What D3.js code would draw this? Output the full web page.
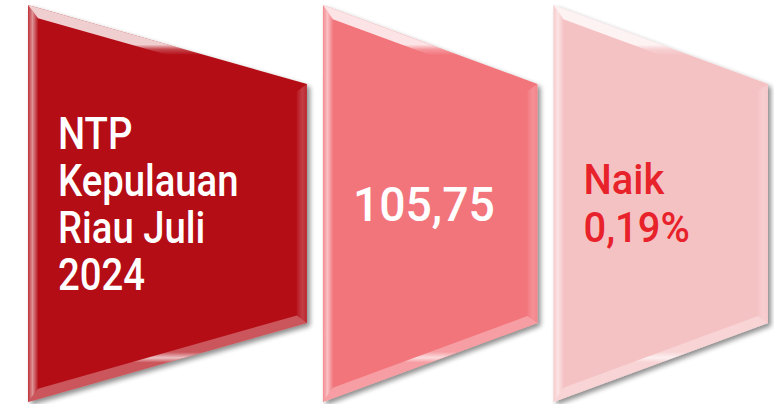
<!DOCTYPE html>
<html lang="en">
<head>
<meta charset="utf-8">
<title>NTP Kepulauan Riau</title>
<style>
  body { margin: 0; background: #fff; }
  svg { display: block; }
  .label { font-family: Roboto, "Liberation Sans", sans-serif; font-weight: 500; }
</style>
</head>
<body>
<div id="chart"></div>
<script src="https://cdn.jsdelivr.net/npm/d3@7"></script>
<script>
// panels of the infographic
var panels = ["judul", "nilai", "perubahan"];
var panelText = [
  ["NTP", "Kepulauan", "Riau Juli", "2024"],
  ["105,75"],
  ["Naik", "0,19%"]
];
var panelWeight = [1.3, 1, 1];
var panelFill = ["#b40f15", "#f2757c", "#f5c2c4"];
var textFill = ["#ffffff", "#ffffff", "#e8222a"];
var fontSize = [44, 48, 42];
var lineHeight = [47, 48, 48];
var squeeze = [0.87, 0.965, 0.95];

var width = 774, height = 404;
var left = 28, right = 768, gap = 16;
var yTop = 5, yBottom = 402, slant = 79, bevel = 10;

var svg = d3.select("#chart").append("svg")
    .attr("width", width)
    .attr("height", height);

var defs = svg.append("defs");
var shadow = defs.append("filter").attr("id", "shadow")
    .attr("x", "-10%").attr("y", "-10%").attr("width", "130%").attr("height", "130%");
shadow.append("feGaussianBlur").attr("in", "SourceAlpha").attr("stdDeviation", 2.5);
shadow.append("feOffset").attr("dx", 3).attr("dy", 3).attr("result", "blur");
shadow.append("feComponentTransfer").append("feFuncA").attr("type", "linear").attr("slope", 0.45);
var merge = shadow.append("feMerge");
merge.append("feMergeNode");
merge.append("feMergeNode").attr("in", "SourceGraphic");

// cumulative weights -> x positions
var cum = [0];
panelWeight.forEach(function(w, i) { cum.push(cum[i] + w); });
var unit = (right - left - gap * (panels.length - 1)) / cum[cum.length - 1];
var x0 = function(i) { return left + cum[i] * unit + gap * i; };
var x1 = function(i) { return left + cum[i + 1] * unit + gap * i; };

var y = d3.scaleLinear().domain([0, 1]).range([yTop, yBottom]);

// bevel facet styles: white opacity at outer, mid, inner edge
var facetStyle = {
  top:    { c: "#fff", s: [0.8, 0.25, 0.0] },
  right:  { c: "#fff", s: [0.1, 0.2, 0.05] },
  bottom: { c: "#fff", s: [0.3, 0.75, 0.3] },
  left:   { c: "#fff", s: [0.15, 0.55, 0.05] }
};

panels.forEach(function(name, i) {
  var a = x0(i), b = x1(i);
  var s = slant / (b - a);
  var k = bevel * Math.sqrt(1 + s * s);
  var outer = [[a, y(0)], [b, y(0) + slant], [b, y(1) - slant], [a, y(1)]];
  var topAt = function(x, off) { return y(0) + s * (x - a) + off; };
  var botAt = function(x, off) { return y(1) - s * (x - a) - off; };
  var inner = [
    [a + bevel, topAt(a + bevel, k)],
    [b - bevel, topAt(b - bevel, k)],
    [b - bevel, botAt(b - bevel, k)],
    [a + bevel, botAt(a + bevel, k)]
  ];

  var g = svg.append("g").attr("class", "panel " + name);

  g.append("path")
    .attr("d", d3.line()(outer) + "Z")
    .attr("fill", panelFill[i])
    .attr("filter", "url(#shadow)");

  var sides = ["top", "right", "bottom", "left"];
  sides.forEach(function(side, j) {
    var n = (j + 1) % 4;
    var pts = [outer[j], outer[n], inner[n], inner[j]];
    var om = [(outer[j][0] + outer[n][0]) / 2, (outer[j][1] + outer[n][1]) / 2];
    var im = [(inner[j][0] + inner[n][0]) / 2, (inner[j][1] + inner[n][1]) / 2];
    var id = "bev-" + i + "-" + side;
    var st = facetStyle[side];
    var grad = defs.append("linearGradient").attr("id", id)
        .attr("gradientUnits", "userSpaceOnUse")
        .attr("x1", om[0]).attr("y1", om[1])
        .attr("x2", im[0]).attr("y2", im[1]);
    [0, 0.45, 1].forEach(function(o, m) {
      grad.append("stop").attr("offset", o)
        .attr("stop-color", st.c).attr("stop-opacity", st.s[m]);
    });
    g.append("path")
      .attr("d", d3.line()(pts) + "Z")
      .attr("fill", "url(#" + id + ")");
  });

  // text block
  var lines = panelText[i];
  var lh = lineHeight[i];
  var cy = (y(0) + y(1)) / 2;
  var capH = fontSize[i] * 0.71;
  var firstBase = cy - (lines.length - 1) * lh / 2 + capH / 2;
  var tx = a + 30;
  var t = g.append("text")
      .attr("class", "label")
      .attr("transform", "translate(" + tx + ",0) scale(" + squeeze[i] + ",1)")
      .attr("font-size", fontSize[i])
      .attr("fill", textFill[i]);
  t.selectAll("tspan")
    .data(lines)
    .join("tspan")
      .attr("x", 0)
      .attr("y", function(d, m) { return firstBase + m * lh; })
      .text(function(d) { return d; });
});
</script>
</body>
</html>
